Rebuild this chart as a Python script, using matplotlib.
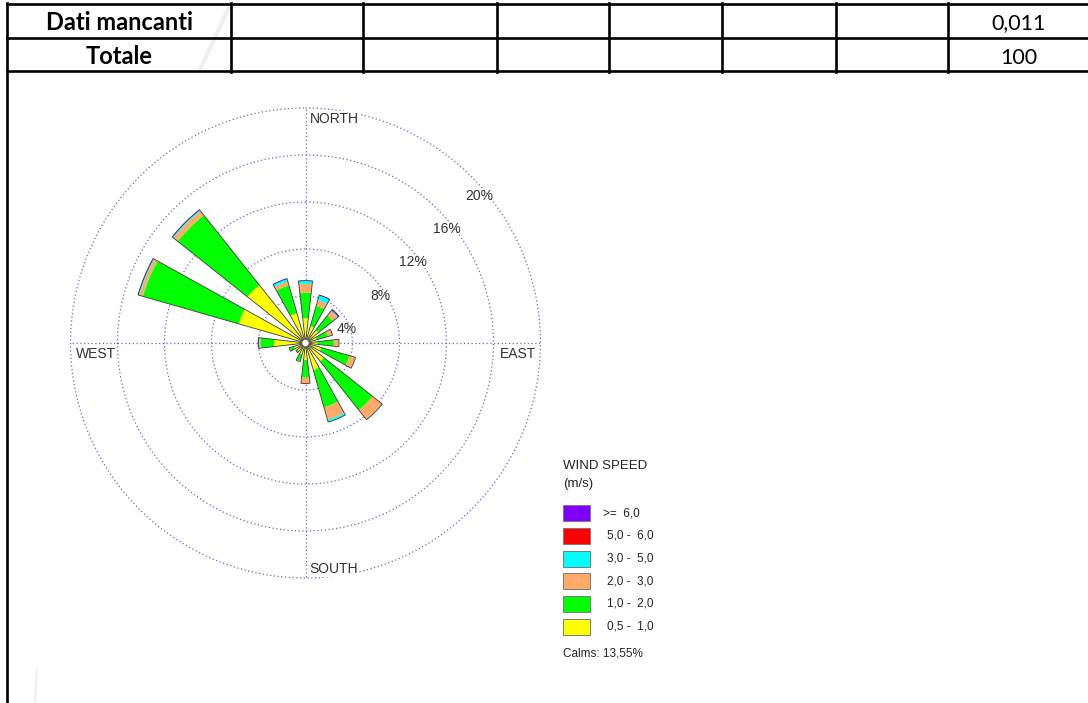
import numpy as np
import matplotlib
matplotlib.use("Agg")
import matplotlib.pyplot as plt
from matplotlib.lines import Line2D
from matplotlib.patches import Rectangle

W, H, DPI = 1088, 703, 100

# ---- wind rose data (frequency in % of hours) ----
directions = ["N", "NNE", "NE", "ENE", "E", "ESE", "SE", "SSE",
              "S", "SSW", "SW", "WSW", "W", "WNW", "NW", "NNW"]
freq_05_10 = [2.10, 1.50, 1.40, 1.00, 1.00, 1.40, 2.00, 2.40, 1.45, 1.00, 0.90, 1.00, 2.68, 5.90, 6.30, 2.65]
freq_10_20 = [2.20, 1.80, 1.60, 1.00, 1.40, 2.50, 5.30, 3.30, 1.50, 0.60, 0.15, 0.45, 1.15, 8.50, 7.60, 2.45]
freq_20_30 = [0.73, 0.50, 0.45, 0.40, 0.42, 0.50, 1.00, 1.10, 0.50, 0.05, 0.00, 0.00, 0.10, 0.30, 0.45, 0.35]
freq_30_50 = [0.25, 0.40, 0.08, 0.00, 0.03, 0.03, 0.05, 0.20, 0.00, 0.00, 0.00, 0.00, 0.03, 0.08, 0.10, 0.22]
freq_50_60 = [0.00, 0.00, 0.04, 0.00, 0.00, 0.00, 0.00, 0.00, 0.00, 0.00, 0.00, 0.00, 0.02, 0.00, 0.00, 0.00]
freq_ge_60 = [0.03, 0.05, 0.08, 0.00, 0.00, 0.00, 0.00, 0.00, 0.00, 0.00, 0.00, 0.00, 0.05, 0.05, 0.05, 0.03]
calms_pct = 13.55

speed_series = [freq_05_10, freq_10_20, freq_20_30, freq_30_50, freq_50_60, freq_ge_60]
speed_colors = ["#FFFF00", "#00FF00", "#FFAA66", "#00FFFF", "#FF0000", "#8000FF"]
legend_labels = [">=  6,0", "5,0 -  6,0", "3,0 -  5,0", "2,0 -  3,0", "1,0 -  2,0", "0,5 -  1,0"]
ring_values = [4, 8, 12, 16, 20]
ring_labels = ["4%", "8%", "12%", "16%", "20%"]
cardinals = ["NORTH", "EAST", "SOUTH", "WEST"]

# ---- table data ----
row_labels = ["Dati mancanti", "Totale"]
row_values = ["0,011", "100"]

fig = plt.figure(figsize=(W / DPI, H / DPI), dpi=DPI)
fig.patch.set_facecolor("white")


def fx(x):
    return x / W


def fy(y):
    return 1 - y / H


# ---- table frame ----
tbl_lw = 1.9
col_x = [231, 363, 497, 609, 722, 836, 948]
for yy in (4, 37.5, 71):
    fig.add_artist(Line2D([fx(7), fx(W)], [fy(yy), fy(yy)], color="black", lw=tbl_lw))
fig.add_artist(Line2D([fx(7), fx(7)], [fy(3), fy(H)], color="black", lw=tbl_lw))
for cx in col_x:
    fig.add_artist(Line2D([fx(cx), fx(cx)], [fy(3), fy(72)], color="black", lw=tbl_lw))

# faint diagonal marks in the page background
fig.add_artist(Line2D([fx(230), fx(200)], [fy(5), fy(70)], color="#efefef", lw=3, zorder=0))
fig.add_artist(Line2D([fx(37), fx(35)], [fy(670), fy(H)], color="#f2f2f2", lw=2, zorder=0))

baselines = [29.5, 64]
for lab, val, by in zip(row_labels, row_values, baselines):
    fig.text(fx(119), fy(by), lab, family="Lato", weight="bold", fontsize=17,
             ha="center", va="baseline", color="black")
    fig.text(fx(1019), fy(by), val, family="Lato", fontsize=15.5,
             ha="center", va="baseline", color="black")

# ---- wind rose ----
cx_px, cy_px, rad_px = 305.5, 343.0, 235.0
ax = fig.add_axes([fx(cx_px - rad_px), fy(cy_px + rad_px), 2 * rad_px / W, 2 * rad_px / H],
                  projection="polar")
ax.set_theta_zero_location("N")
ax.set_theta_direction(-1)
ax.set_ylim(0, ring_values[-1])
ax.set_axis_off()

grid_kw = dict(color="#6666cc", lw=0.9, ls=(0, (1, 2)), zorder=1, clip_on=False)
full = np.linspace(0, 2 * np.pi, 721)
for rv in ring_values:
    ax.plot(full, np.full_like(full, rv), **grid_kw)
for ang in (0, 90, 180, 270):
    t = np.radians(ang)
    ax.plot([t, t], [0, ring_values[-1]], **grid_kw)

theta = np.radians(np.arange(len(directions)) * 22.5)
bar_w = np.radians(13)
bottom = np.zeros(len(directions))
for vals, col in zip(speed_series, speed_colors):
    vals = np.asarray(vals)
    ax.bar(theta, vals, width=bar_w, bottom=bottom, color=col, edgecolor="none",
           linewidth=0, align="center", zorder=2)
    bottom = bottom + vals
ax.bar(theta, bottom, width=bar_w, bottom=0, fill=False, edgecolor="#3a3a3a",
       linewidth=0.6, align="center", zorder=3)

# calm circle
ax.fill(full, np.full_like(full, 0.3), facecolor="white", edgecolor="#777777",
        lw=0.6, zorder=4)

# ring percentages
lab_font = dict(family="Liberation Sans", fontsize=10, color="#333333")
for rv, lab in zip(ring_values, ring_labels):
    ax.annotate(lab, xy=(np.radians(45), rv), xytext=(8, -19), textcoords="offset pixels",
                ha="center", va="center", zorder=6, **lab_font)

# cardinal labels
card_pos = {"NORTH": (0, (4, -11), "left"),
            "EAST": (90, (-4, -11), "right"),
            "SOUTH": (180, (4, 9), "left"),
            "WEST": (270, (5, -11), "left")}
for name in cardinals:
    ang, off, ha = card_pos[name]
    ax.annotate(name, xy=(np.radians(ang), ring_values[-1]), xytext=off,
                textcoords="offset pixels", ha=ha, va="center", zorder=6,
                bbox=dict(boxstyle="square,pad=0.05", fc="white", ec="none"),
                **lab_font)

# ---- legend ----
leg_font = dict(family="Liberation Sans", color="#222222")
fig.text(fx(563), fy(466), "WIND SPEED", fontsize=9.5, va="center", ha="left", **leg_font)
fig.text(fx(563), fy(484), "(m/s)", fontsize=9.5, va="center", ha="left", **leg_font)
box_top = [505, 527.5, 550.5, 573, 596, 618.5]
legend_colors = speed_colors[::-1]
for i, (lab, col) in enumerate(zip(legend_labels, legend_colors)):
    y0 = box_top[i]
    fig.add_artist(Rectangle((fx(563), fy(y0 + 16)), 27 / W, 16 / H, facecolor=col,
                             edgecolor="#7a7a7a", lw=0.7, transform=fig.transFigure))
    tx = 603 if lab.startswith(">") else 607
    fig.text(fx(tx), fy(y0 + 8), lab, fontsize=8.5, va="center", ha="left", **leg_font)
fig.text(fx(563), fy(653), f"Calms: {calms_pct:.2f}%".replace(".", ","),
         fontsize=8.5, va="center", ha="left", **leg_font)

fig.savefig("out.png", dpi=DPI, facecolor="white")
